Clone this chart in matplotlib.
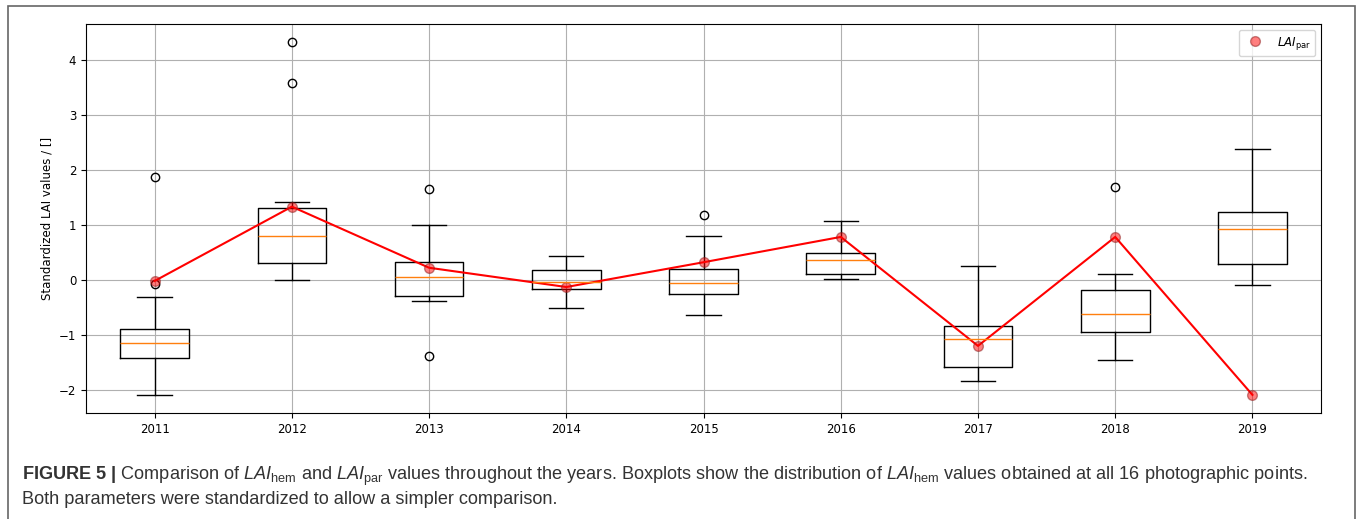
import matplotlib
matplotlib.use("Agg")
import matplotlib.pyplot as plt
from matplotlib.patches import Rectangle

# Yearly LAI_hem summaries (standardized) and LAI_par values
years = ["2011", "2012", "2013", "2014", "2015", "2016", "2017", "2018", "2019"]

whislo = [-2.10, -0.01, -0.38, -0.52, -0.64, 0.02, -1.84, -1.45, -0.10]
q1 = [-1.42, 0.31, -0.30, -0.17, -0.25, 0.10, -1.59, -0.95, 0.29]
med = [-1.14, 0.79, 0.06, -0.04, -0.06, 0.36, -1.07, -0.62, 0.93]
q3 = [-0.89, 1.30, 0.32, 0.18, 0.19, 0.49, -0.84, -0.19, 1.24]
whishi = [-0.32, 1.42, 1.00, 0.44, 0.79, 1.07, 0.25, 0.11, 2.38]
fliers = [
    [1.87, -0.07],
    [4.32, 3.57],
    [1.66, -1.39],
    [],
    [1.18],
    [],
    [],
    [1.69],
    [],
]

lai_par = [-0.02, 1.33, 0.22, -0.13, 0.32, 0.78, -1.20, 0.78, -2.09]

# caption font for the math pieces
plt.rcParams["mathtext.fontset"] = "custom"
plt.rcParams["mathtext.rm"] = "Liberation Sans"
plt.rcParams["mathtext.it"] = "Liberation Sans:italic"
plt.rcParams["mathtext.bf"] = "Liberation Sans:bold"

fig = plt.figure(figsize=(13.57, 5.19), dpi=100)
ax = fig.add_axes([0.0634, 0.2042, 0.9101, 0.7496])

stats = []
for i in range(len(years)):
    stats.append({
        "med": med[i],
        "q1": q1[i],
        "q3": q3[i],
        "whislo": whislo[i],
        "whishi": whishi[i],
        "fliers": fliers[i],
        "label": years[i],
    })

positions = list(range(1, len(years) + 1))
ax.bxp(stats, positions=positions, widths=0.5)

ax.plot(positions, lai_par, "-", color="red", lw=1.5)
ax.plot(positions, lai_par, "o", color="red", alpha=0.5, ms=7,
        markeredgecolor="#8b1a1a", label=r"$LAI_{\rm par}$")

ax.set_xlim(0.5, 9.5)
ax.set_ylim(-2.42, 4.65)
ax.grid(True)
ax.set_axisbelow(True)
ax.tick_params(labelsize=8.5)
ax.set_ylabel("Standardized LAI values / []", fontsize=8.5)
ax.legend(loc="upper right",
          prop={"size": 8.5, "math_fontfamily": "dejavusans"})

# frame around figure and caption
fig.patches.append(Rectangle((8 / 1357, -0.1), 1347 / 1357, 1.1 - 6 / 519,
                             transform=fig.transFigure, fill=False,
                             edgecolor="#666666", lw=1.2))

cap_color = "#333333"
line1 = (r"$\mathbf{FIGURE\ 5\ |}$ Comparison of $\mathit{LAI}_{\rm hem}$ and "
         r"$\mathit{LAI}_{\rm par}$ values throughout the years. Boxplots show the "
         r"distribution of $\mathit{LAI}_{\rm hem}$ values obtained at all 16 photographic points.")
line2 = "Both parameters were standardized to allow a simpler comparison."
fig.text(22 / 1357, 1 - 476 / 519, line1, fontsize=13.1, family="Liberation Sans",
         color=cap_color, va="center", math_fontfamily="custom")
fig.text(22 / 1357, 1 - 500 / 519, line2, fontsize=13.1, family="Liberation Sans",
         color=cap_color, va="center")

fig.savefig("out.png", dpi=100)
